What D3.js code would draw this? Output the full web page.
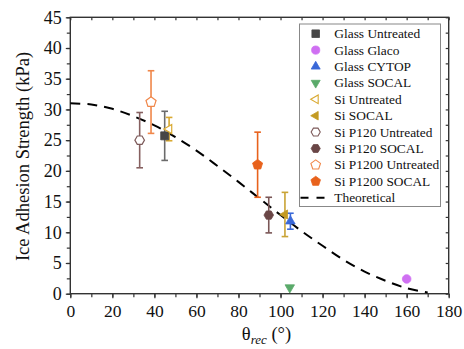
<!DOCTYPE html>
<html><head><meta charset="utf-8">
<script src="https://cdn.jsdelivr.net/npm/d3@7"></script>
<style>
html,body{margin:0;padding:0;background:#fff;}
svg{display:block;font-family:"Liberation Serif","Times New Roman",serif;}
</style></head>
<body>
<svg id="chart" width="464" height="349"></svg>
<script>
// ---- data ----
const seriesNames = ["Glass Untreated","Glass Glaco","Glass CYTOP","Glass SOCAL","Si Untreated","Si SOCAL","Si P120 Untreated","Si P120 SOCAL","Si P1200 Untreated","Si P1200 SOCAL"];
const thetaRec    = [44.9, 160.0, 104.7, 104.4, 47.0, 102.1, 33.0, 94.4, 38.4, 89.1];
const adhesion    = [25.7, 2.4, 11.8, 1.0, 26.8, 12.9, 25.0, 12.8, 31.2, 21.0];
const adhesionErr = [4.0, 0, 1.3, 0, 1.9, 3.6, 4.5, 2.9, 5.1, 5.3];
const theoryTheta = [0,10,20,30,40,50,60,70,80,90,100,110,120,130,140,150,160,170];
const theoryValue = [31.0,30.8,30.1,28.9,27.4,25.5,23.3,20.8,18.2,15.5,12.8,10.2,7.8,5.5,3.6,2.1,0.9,0.2];
const xTicks = [0,20,40,60,80,100,120,140,160,180];
const yTicks = [0,5,10,15,20,25,30,35,40,45];
const xLabel = "θ";
const xLabelSub = "rec";
const xLabelTail = " (°)";
const yLabel = "Ice Adhesion Strength (kPa)";
const theoryName = "Theoretical";

// ---- styles ----
const shapes  = ["square","circle","triUp","triDown","triLeft","triLeft","hex","hex","pent","pent"];
const filled  = [true,true,true,true,false,true,false,true,false,true];
const colors  = ["#464646","#cf6ff2","#3a68d8","#5aaa6a","#d9a930","#c39a22","#7d5a5a","#6a4646","#f0874a","#e8621c"];
const errColors = ["#6b6b6b","#cf6ff2","#3a68d8","#5aaa6a","#d9a930","#c9a335","#866060","#7a5656","#f0874a","#e8621c"];
const sizes   = [4.0,4.3,5.2,5.2,5.0,5.0,4.8,4.8,5.3,5.3];

const svg = d3.select("#chart");
const m = {l:70.3, r:448.7, t:17.3, b:293.7};
const x = d3.scaleLinear().domain([0,180]).range([m.l, m.r]);
const y = d3.scaleLinear().domain([0,45]).range([m.b, m.t]);

function poly(n, r, rot){
  const pts=[];
  for(let i=0;i<n;i++){const a=rot+i*2*Math.PI/n; pts.push([r*Math.cos(a), r*Math.sin(a)]);}
  return "M"+pts.map(p=>p[0].toFixed(2)+","+p[1].toFixed(2)).join("L")+"Z";
}
function shapePath(s, r){
  switch(s){
    case "square": return `M${-r},${-r}H${r}V${r}H${-r}Z`;
    case "circle": return d3.symbol(d3.symbolCircle, Math.PI*r*r)();
    case "triUp": return poly(3, r*1.05, -Math.PI/2);
    case "triDown": return poly(3, r*1.05, Math.PI/2);
    case "triLeft": return poly(3, r*1.05, Math.PI);
    case "hex": return poly(6, r, 0);
    case "pent": return poly(5, r, -Math.PI/2);
  }
}

// ---- axes ----
const axisColor = "#333";
const xMinor = d3.range(0,181,10);
const yMinor = d3.range(0,45.1,2.5);
const gx = svg.append("g").attr("transform",`translate(0,${m.b})`)
  .call(d3.axisBottom(x).tickValues(xMinor).tickSize(3.5).tickFormat(""));
const gx2 = svg.append("g").attr("transform",`translate(0,${m.b})`)
  .call(d3.axisBottom(x).tickValues(xTicks).tickSize(4.5).tickPadding(6).tickFormat(d3.format("d")));
const gy = svg.append("g").attr("transform",`translate(${m.l},0)`)
  .call(d3.axisLeft(y).tickValues(yMinor).tickSize(3.5).tickFormat(""));
const gy2 = svg.append("g").attr("transform",`translate(${m.l},0)`)
  .call(d3.axisLeft(y).tickValues(yTicks).tickSize(4.5).tickPadding(4).tickFormat(d3.format("d")));
const gt = svg.append("g").attr("transform",`translate(0,${m.t})`)
  .call(d3.axisTop(x).tickValues(xMinor).tickSize(-3).tickFormat(""));
const gr = svg.append("g").attr("transform",`translate(${m.r},0)`)
  .call(d3.axisRight(y).tickValues(yMinor).tickSize(-3).tickFormat(""));
[gx,gx2,gy,gy2,gt,gr].forEach(g=>{
  g.select(".domain").remove();
  g.selectAll("line").attr("stroke",axisColor).attr("stroke-width",1.2);
  g.selectAll("text").attr("fill","#111").attr("font-family","Liberation Serif").attr("font-size",17.5);
});
gy2.selectAll("text").attr("font-size",18);
svg.append("rect").attr("x",m.l).attr("y",m.t).attr("width",m.r-m.l).attr("height",m.b-m.t)
  .attr("fill","none").attr("stroke",axisColor).attr("stroke-width",1.4);

// axis titles
const xt = svg.append("text").attr("x",(m.l+m.r)/2+7).attr("y",340).attr("text-anchor","middle")
  .attr("font-size",18.5).attr("fill","#111");
xt.append("tspan").text(xLabel);
xt.append("tspan").text(xLabelSub).attr("font-style","italic").attr("font-size",13).attr("dy",4);
xt.append("tspan").text(xLabelTail).attr("dy",-4);
svg.append("text").attr("transform",`translate(29,${(m.t+m.b)/2+1}) rotate(-90)`)
  .attr("text-anchor","middle").attr("font-size",18.5).attr("fill","#111").text(yLabel);

// ---- theoretical curve ----
const line = d3.line().x((d,i)=>x(theoryTheta[i])).y(d=>y(d)).curve(d3.curveCatmullRom);
svg.append("path").datum(theoryValue).attr("d",line).attr("fill","none")
  .attr("stroke","#000").attr("stroke-width",2).attr("stroke-dasharray","10,7");

// ---- error bars & points ----
const idx = d3.range(seriesNames.length);
const eb = svg.append("g");
idx.forEach(i=>{
  if(!adhesionErr[i]) return;
  const cx = x(thetaRec[i]), y1 = y(adhesion[i]+adhesionErr[i]), y0 = y(adhesion[i]-adhesionErr[i]);
  const g = eb.append("g").attr("stroke",errColors[i]).attr("stroke-width",1.6);
  g.append("line").attr("x1",cx).attr("x2",cx).attr("y1",y1).attr("y2",y0);
  g.append("line").attr("x1",cx-3.3).attr("x2",cx+3.3).attr("y1",y1).attr("y2",y1);
  g.append("line").attr("x1",cx-3.3).attr("x2",cx+3.3).attr("y1",y0).attr("y2",y0);
});
svg.append("g").selectAll("path").data(idx).join("path")
  .attr("transform",i=>`translate(${x(thetaRec[i])},${y(adhesion[i])})`)
  .attr("d",i=>shapePath(shapes[i],sizes[i]))
  .attr("fill",i=>filled[i]?colors[i]:"#fff")
  .attr("stroke",i=>colors[i]).attr("stroke-width",i=>filled[i]?0.8:1.2);

// ---- legend ----
const lg = svg.append("g");
lg.append("rect").attr("x",299.5).attr("y",24).attr("width",141).attr("height",182.5)
  .attr("fill","#fff").attr("stroke","#888").attr("stroke-width",1);
const row0 = 33.7, rowH = 16.4;
idx.forEach(i=>{
  const yy = row0 + i*rowH;
  lg.append("path").attr("transform",`translate(315.7,${yy})`)
    .attr("d",shapePath(shapes[i],sizes[i]*0.95))
    .attr("fill",filled[i]?colors[i]:"#fff").attr("stroke",colors[i]).attr("stroke-width",filled[i]?0.8:1.1);
  lg.append("text").attr("x",334.3).attr("y",yy+4.5).attr("font-size",13.4).attr("fill","#111").text(seriesNames[i]);
});
{
  const yy = row0 + 10*rowH;
  lg.append("line").attr("x1",300.5).attr("x2",327).attr("y1",yy).attr("y2",yy)
    .attr("stroke","#000").attr("stroke-width",2).attr("stroke-dasharray","8,8");
  lg.append("text").attr("x",334.3).attr("y",yy+4.5).attr("font-size",13.4).attr("fill","#111").text(theoryName);
}
</script>
</body></html>
